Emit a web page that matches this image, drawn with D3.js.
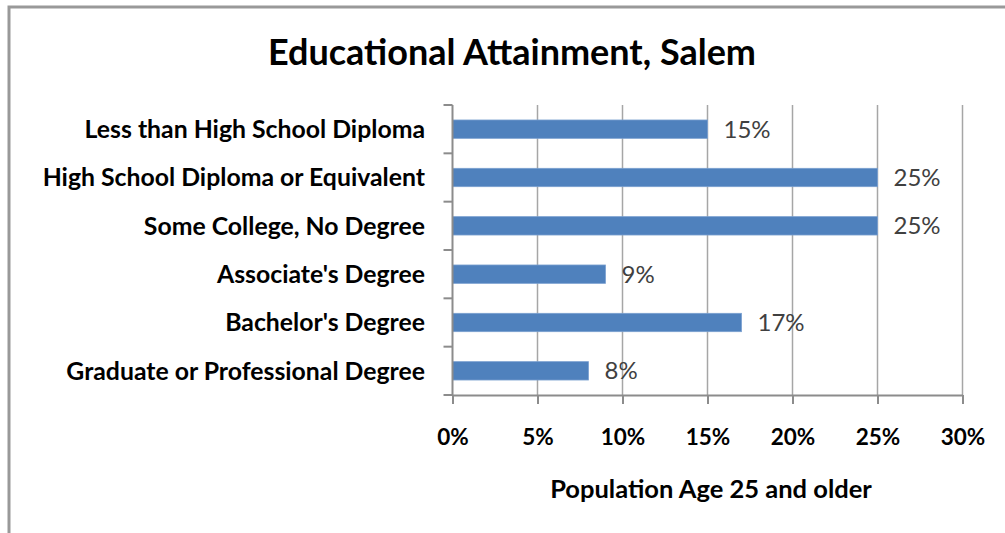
<!DOCTYPE html>
<html>
<head>
<meta charset="utf-8">
<script src="https://cdn.jsdelivr.net/npm/d3@7"></script>
<style>
  body { margin: 0; background: #fff; }
  svg { display: block; }
</style>
</head>
<body>
<svg width="1005" height="533"></svg>
<script>
"use strict"

var categories = [
    "Less than High School Diploma",
    "High School Diploma or Equivalent",
    "Some College, No Degree",
    "Associate's Degree",
    "Bachelor's Degree",
    "Graduate or Professional Degree"
];
var values = [15, 25, 25, 9, 17, 8];
var xTicks = [0, 5, 10, 15, 20, 25, 30];
var chartTitle = "Educational Attainment, Salem";
var axisTitle = "Population  Age 25 and older";

var svg = d3.select("svg");
var plotL = 452.5, plotR = 962.5, plotT = 105, plotB = 395;

// outer frame, right/bottom run off the picture
svg.append("rect")
    .attr("x", 9).attr("y", 7).attr("width", 1010).attr("height", 540)
    .attr("fill", "#fff").attr("stroke", "#999").attr("stroke-width", 3);

var x = d3.scaleLinear().domain([0, 30]).range([plotL, plotR]);
var y = d3.scaleBand().domain(categories).range([plotT, plotB])
    .paddingInner(0.62).paddingOuter(0.31);
var yb = d3.scaleBand().domain(categories).range([plotT, plotB]);

// vertical gridlines
svg.append("g").selectAll("line")
    .data(xTicks.slice(1))
    .enter().append("line")
    .attr("x1", function(d) { return x(d); })
    .attr("x2", function(d) { return x(d); })
    .attr("y1", plotT).attr("y2", plotB)
    .attr("stroke", "#a6a6a6").attr("stroke-width", 1.5);

// bars
svg.append("g").selectAll("rect")
    .data(values)
    .enter().append("rect")
    .attr("x", x(0))
    .attr("y", function(d, i) { return y(categories[i]); })
    .attr("width", function(d) { return x(d) - x(0); })
    .attr("height", y.bandwidth())
    .attr("fill", "#4f81bd")
    .attr("stroke", "#7aa0d0").attr("stroke-width", 0.8);

// data labels
svg.append("g").selectAll("text")
    .data(values)
    .enter().append("text")
    .attr("x", function(d) { return x(d) + 16; })
    .attr("y", function(d, i) { return y(categories[i]) + y.bandwidth() / 2; })
    .attr("dy", "0.36em")
    .attr("font-family", "Lato, 'Noto Sans', sans-serif")
    .attr("font-size", 24)
    .attr("fill", "#404040")
    .text(function(d) { return d + "%"; });

// y axis: ticks at band boundaries
var yAxis = svg.append("g").attr("stroke", "#8c8c8c").attr("stroke-width", 2);
yAxis.append("line").attr("x1", plotL).attr("x2", plotL).attr("y1", plotT).attr("y2", plotB);
yAxis.selectAll(".yt")
    .data(categories.concat(["end"]))
    .enter().append("line")
    .attr("x1", plotL - 9).attr("x2", plotL)
    .attr("y1", function(d, i) { return plotT + i * yb.step(); })
    .attr("y2", function(d, i) { return plotT + i * yb.step(); });

// category labels
svg.append("g").selectAll("text")
    .data(categories)
    .enter().append("text")
    .attr("x", 425)
    .attr("y", function(d) { return yb(d) + yb.bandwidth() / 2; })
    .attr("dy", "0.36em")
    .attr("text-anchor", "end")
    .attr("font-family", "Lato, sans-serif")
    .attr("font-weight", "bold")
    .attr("font-size", 24.8)
    .attr("fill", "#000")
    .text(function(d) { return d; });

// x axis
var xAxis = svg.append("g")
    .attr("transform", "translate(0," + plotB + ")")
    .call(d3.axisBottom(x).tickValues(xTicks)
        .tickFormat(function(d) { return d + "%"; })
        .tickSizeInner(9).tickSizeOuter(0).tickPadding(25));
xAxis.select(".domain").attr("stroke", "#8c8c8c").attr("stroke-width", 2);
xAxis.selectAll(".tick line").attr("stroke", "#8c8c8c").attr("stroke-width", 2);
xAxis.selectAll(".tick text")
    .attr("font-family", "Lato, sans-serif")
    .attr("font-weight", "bold")
    .attr("font-size", 22.5)
    .attr("fill", "#000");

// titles
svg.append("text")
    .attr("x", 512).attr("y", 65)
    .attr("text-anchor", "middle")
    .attr("font-family", "Lato, sans-serif")
    .attr("font-weight", "bold")
    .attr("font-size", 36)
    .attr("fill", "#000")
    .text(chartTitle);

svg.append("text")
    .attr("x", 711).attr("y", 498)
    .attr("text-anchor", "middle")
    .attr("font-family", "Lato, sans-serif")
    .attr("font-weight", "bold")
    .attr("font-size", 25.5)
    .attr("fill", "#000")
    .text(axisTitle);
</script>
</body>
</html>
